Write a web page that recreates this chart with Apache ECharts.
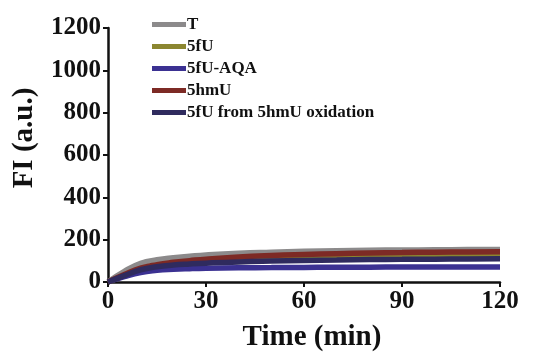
<!DOCTYPE html>
<html>
<head>
<meta charset="utf-8">
<script src="https://cdn.jsdelivr.net/npm/echarts@6/dist/echarts.min.js"></script>
<style>
  html, body { margin: 0; padding: 0; background: #fff; }
  #chart { width: 534px; height: 352px; }
</style>
</head>
<body>
<div id="chart"></div>
<script>
// time points (min)
const times = [0, 5, 10, 15, 20, 25, 30, 40, 50, 60, 70, 80, 90, 100, 110, 120];

// fluorescence intensity
const tValues      = [0, 50, 88, 105, 115, 122, 128, 136, 141, 145, 148, 150, 151, 152, 153, 154];
const fuValues     = [0, 30, 60, 78, 88, 95, 100, 108, 113, 117, 120, 122, 124, 125, 126, 127];
const fuAqaValues  = [0, 25, 45, 55, 60, 63, 65, 67, 68, 69, 70, 70, 71, 71, 71, 71];
const hmuValues    = [0, 35, 65, 82, 93, 101, 108, 118, 125, 130, 134, 137, 139, 141, 142, 143];
const fuOxValues   = [0, 30, 58, 72, 80, 85, 89, 95, 99, 102, 104, 106, 107, 108, 109, 110];

const seriesNames = ['T', '5fU', '5fU-AQA', '5hmU', '5fU from 5hmU oxidation'];
const seriesColors = ['#8c8a8b', '#8b8630', '#3b3192', '#7d2a25', '#2f2b5e'];
const seriesValues = [tValues, fuValues, fuAqaValues, hmuValues, fuOxValues];

const font = '"Liberation Serif", "Times New Roman", serif';

const chart = echarts.init(document.getElementById('chart'));

const series = seriesNames.map(function (name, i) {
    return {
        name: name,
        type: 'line',
        smooth: true,
        symbol: 'none',
        lineStyle: { width: 5.5, color: seriesColors[i] },
        itemStyle: { color: seriesColors[i] },
        data: times.map(function (t, j) { return [t, seriesValues[i][j]]; })
    };
});

chart.setOption({
    animation: false,
    grid: { left: 108, right: 34, top: 28, bottom: 70, outerBoundsMode: 'none', containLabel: false },
    legend: {
        orient: 'vertical',
        left: 147,
        top: 11,
        itemWidth: 34,
        itemHeight: 5,
        itemGap: 5,
        icon: 'rect',
        data: seriesNames,
        textStyle: {
            fontFamily: font,
            fontWeight: 'bold',
            fontSize: 17,
            lineHeight: 17,
            color: '#111',
            padding: [0, 0, 0, -4]
        }
    },
    xAxis: {
        type: 'value',
        min: 0,
        max: 120,
        interval: 30,
        name: 'Time (min)',
        nameLocation: 'middle',
        nameGap: 41,
        nameTextStyle: {
            fontFamily: font, fontWeight: 'bold', fontSize: 29, color: '#111',
            padding: [0, 0, 0, 16]
        },
        axisLine: { lineStyle: { color: '#111', width: 2.5 } },
        axisTick: { length: 5, lineStyle: { color: '#111', width: 2 } },
        axisLabel: { fontFamily: font, fontWeight: 'bold', fontSize: 25, color: '#111', margin: 7 },
        splitLine: { show: false }
    },
    yAxis: {
        type: 'value',
        min: 0,
        max: 1200,
        interval: 200,
        name: 'FI (a.u.)',
        nameLocation: 'middle',
        nameGap: 69,
        nameTextStyle: {
            fontFamily: font, fontWeight: 'bold', fontSize: 29, color: '#111',
            padding: [0, 0, 0, 34]
        },
        axisLine: { show: true, lineStyle: { color: '#111', width: 2.5 } },
        axisTick: { show: true, length: 5, lineStyle: { color: '#111', width: 2 } },
        axisLabel: {
            fontFamily: font, fontWeight: 'bold', fontSize: 25, color: '#111', margin: 7,
            formatter: function (v) { return String(v); }
        },
        splitLine: { show: false }
    },
    series: series
});
</script>
</body>
</html>
